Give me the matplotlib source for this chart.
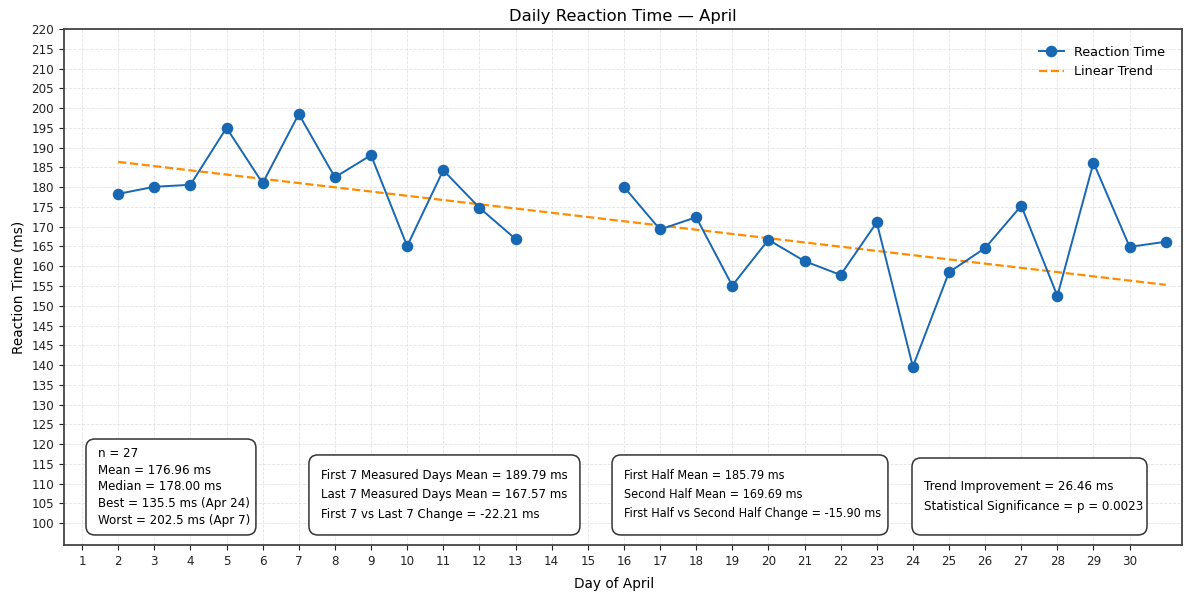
import numpy as np
import matplotlib
matplotlib.use("Agg")
import matplotlib.pyplot as plt
from matplotlib.patches import FancyBboxPatch

# reaction time per day of April (nan = no measurement)
days = list(range(1, 32))
reaction_ms = [np.nan, 178.3, 180.1, 180.6, 195.0, 181.0, 198.5, 182.5, 188.1, 165.1,
               184.3, 174.8, 166.9, np.nan, np.nan, 180.1, 169.3, 172.4, 155.1, 166.7,
               161.3, 157.8, 171.1, 134.6, 158.5, 164.6, 175.3, 152.5, 186.2, 164.9, 166.2]

# linear trend as drawn, first and last measured day
trend_days = [2, 31]
trend_ms = [186.4, 155.3]

x_ticks = list(range(1, 31))
y_ticks = list(range(95, 221, 5))
y_tick_labels = ["100", "105", "110", "115", "120", "125", "130", "135", "140", "145",
                 "145", "150", "155", "160", "165", "170", "175", "180", "185", "190",
                 "195", "200", "205", "210", "215", "220"]

box_texts = [
    "n = 27\nMean = 176.96 ms\nMedian = 178.00 ms\nBest = 135.5 ms (Apr 24)\nWorst = 202.5 ms (Apr 7)",
    "First 7 Measured Days Mean = 189.79 ms\nLast 7 Measured Days Mean = 167.57 ms\nFirst 7 vs Last 7 Change = -22.21 ms",
    "First Half Mean = 185.79 ms\nSecond Half Mean = 169.69 ms\nFirst Half vs Second Half Change = -15.90 ms",
    "Trend Improvement = 26.46 ms\nStatistical Significance = p = 0.0023",
]
# box extents in axes fraction: x0, y0, x1, y1
box_pos = [(0.0197, 0.0194, 0.1717, 0.2054),
           (0.2191, 0.0194, 0.4615, 0.1745),
           (0.4902, 0.0194, 0.7370, 0.1745),
           (0.7585, 0.0194, 0.9687, 0.1686)]
box_spacing = [1.38, 1.66, 1.6, 1.66]
box_fs = [8.6, 8.45, 9.0, 8.6]
box_stretch = ["normal", "normal", "condensed", "normal"]

x = np.array(days, dtype=float)
y = np.array(reaction_ms, dtype=float)

fig = plt.figure(figsize=(12, 5.96), dpi=100)
ax = fig.add_axes([0.0533, 0.0856, 0.9317, 0.8657])

ax.plot(x, y, "-o", color="#1767b3", lw=1.4, ms=7.3, label="Reaction Time", zorder=3)
ax.plot(trend_days, trend_ms, "--", color="darkorange", lw=1.6, label="Linear Trend", zorder=2)

ax.set_xlim(0.5, 31.45)
ax.set_ylim(89.5, 220)
ax.set_xticks(x_ticks)
ax.set_yticks(y_ticks)
ax.set_yticklabels(y_tick_labels)
ax.tick_params(labelsize=8.6, colors="#222222")
ax.grid(True, ls="--", lw=0.6, color="#d8d8d8", alpha=0.7)
for s in ax.spines.values():
    s.set_color("#444444")
    s.set_linewidth(1.3)

ax.set_title("Daily Reaction Time \u2014 April", fontsize=11.8)
ax.set_xlabel("Day of April", fontsize=9.8)
ax.xaxis.set_label_coords(0.492, -0.063)
ax.set_ylabel("Reaction Time (ms)", fontsize=9.8)
ax.legend(loc="upper right", frameon=False, fontsize=9.2, borderaxespad=0.9)

for txt, (x0, y0, x1, y1), sp, fs, st in zip(box_texts, box_pos, box_spacing, box_fs, box_stretch):
    patch = FancyBboxPatch((x0, y0), x1 - x0, y1 - y0,
                           boxstyle="round,pad=0,rounding_size=0.008",
                           mutation_aspect=1118 / 516, transform=ax.transAxes,
                           facecolor="white", edgecolor="#333333", lw=1.1, zorder=5)
    ax.add_patch(patch)
    ax.text(x0 + 0.0107, (y0 + y1) / 2, txt, transform=ax.transAxes, ha="left",
            va="center", fontsize=fs, fontstretch=st, linespacing=sp, zorder=6)

fig.savefig("out.png", dpi=100)
